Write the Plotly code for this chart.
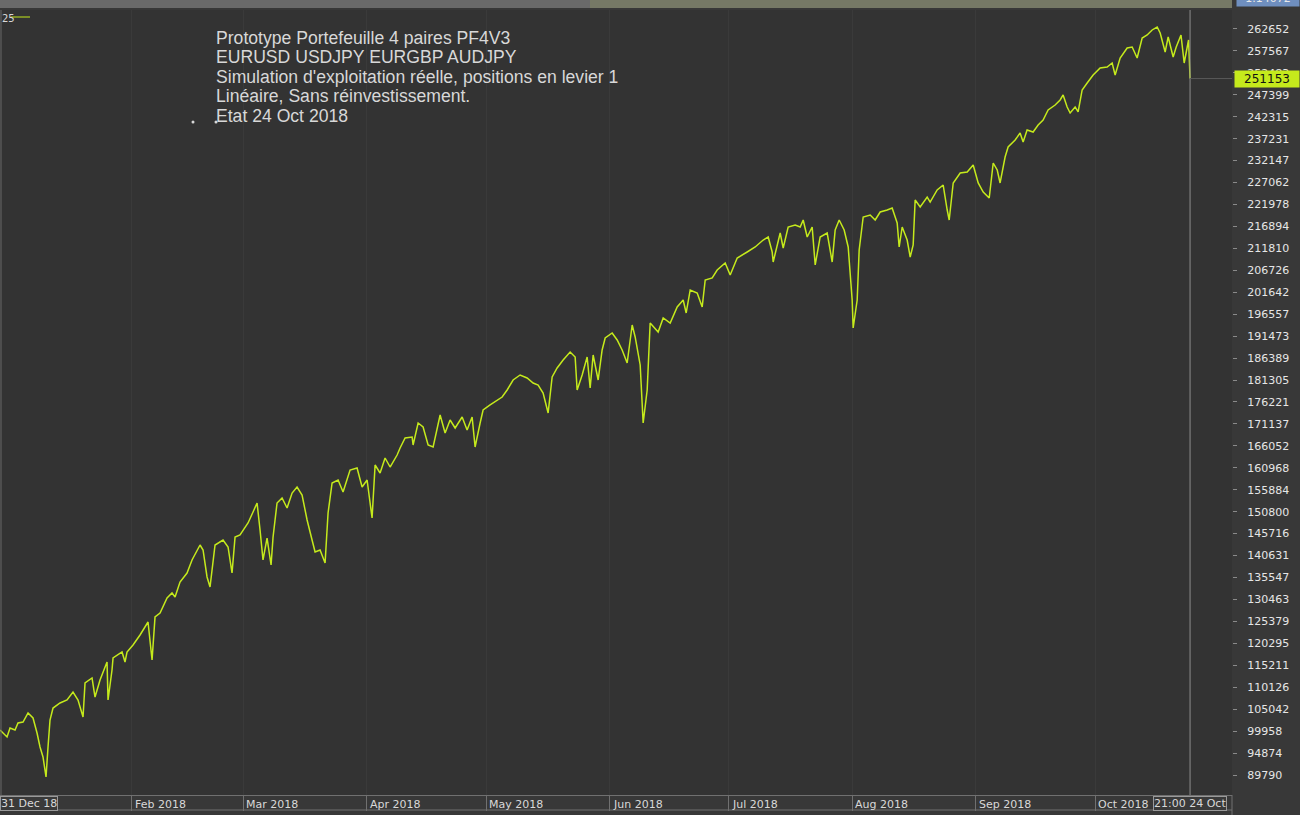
import pandas as pd
import plotly.graph_objects as go

# equity curve (days after 1 Jan 2018, account value)
start = pd.Timestamp("2018-01-01")
day = [-2.16, -0.40, 0.35, 1.61, 2.36, 3.62, 4.88, 6.13, 7.14, 7.89, 8.64, 9.40, 9.90, 10.40,
       11.16, 12.92, 14.68, 16.18, 17.44, 18.70, 19.20, 20.96, 21.71, 22.97, 24.73, 24.98, 25.98,
       26.24, 28.50, 29.25, 29.75, 31.26, 33.02, 35.03, 36.04, 36.79, 38.05, 39.81, 41.06, 41.82,
       43.07, 44.83, 46.09, 47.35, 48.10, 48.86, 49.86, 50.61, 51.87, 53.88, 55.14, 56.14, 56.90,
       58.15, 59.41, 60.16, 61.42, 62.43, 63.18, 63.93, 64.94, 65.95, 66.45, 67.45, 68.71, 69.97,
       71.23, 72.48, 73.74, 75.00, 76.25, 77.01, 78.26, 79.52, 80.27, 81.28, 82.79, 84.04, 85.80,
       87.56, 88.82, 90.08, 91.33, 92.09, 93.34, 94.60, 95.86, 97.62, 98.37, 99.63, 101.39, 101.64,
       102.90, 104.15, 105.41, 106.67, 108.43, 109.68, 110.94, 112.20, 113.96, 115.21, 116.47,
       117.22, 118.48, 119.23, 120.99, 122.75, 124.01, 125.27, 126.77, 128.53, 130.29, 131.80,
       133.06, 134.31, 135.57, 136.58, 137.83, 139.34, 141.10, 142.36, 142.86, 144.12, 145.37,
       146.13, 146.88, 148.14, 149.14, 149.90, 151.66, 152.92, 154.17, 155.43, 156.69, 157.44,
       158.70, 159.45, 160.46, 161.21, 163.22, 164.48, 166.24, 168.00, 169.51, 170.26, 171.27,
       173.03, 174.28, 175.04, 176.80, 178.05, 180.06, 181.32, 183.08, 185.59, 187.60, 189.61,
       190.87, 191.87, 192.12, 193.88, 194.64, 195.89, 197.65, 198.91, 199.66, 200.67, 201.92,
       202.68, 203.93, 205.69, 206.95, 207.70, 208.71, 209.96, 210.97, 211.97, 212.22, 213.23,
       213.73, 214.74, 216.50, 217.75, 219.01, 220.77, 222.02, 223.28, 223.78, 224.54, 225.79,
       226.55, 227.30, 227.80, 229.06, 230.82, 231.57, 233.33, 234.84, 235.85, 236.35, 237.36,
       239.12, 240.88, 242.38, 243.64, 244.90, 246.41, 247.41, 248.42, 249.14, 250.40, 251.16,
       252.92, 254.17, 254.93, 255.93, 257.44, 258.70, 259.95, 261.21, 262.97, 264.23, 264.98,
       265.99, 266.74, 268.00, 268.75, 269.76, 271.02, 272.52, 274.28, 276.04, 277.30, 278.05,
       279.31, 281.07, 282.33, 283.58, 284.84, 286.10, 287.35, 288.61, 289.37, 290.62, 291.38,
       292.63, 293.40, 294.60, 295.40, 296.10, 296.50, 296.875]
equity = [100220, 98600, 100680, 100220, 101840, 102070, 104160, 103000, 99520, 96280, 93960,
          89330, 96280, 102530, 105310, 106470, 107170, 109020, 107170, 103230, 111110, 112270,
          107860, 111800, 115970, 107170, 114120, 116900, 118290, 115970, 118290, 119910, 122230,
          125240, 116440, 126400, 127330, 130800, 131960, 131030, 134510, 136590, 139610, 141920,
          143080, 141920, 135670, 133350, 143080, 144240, 142620, 136590, 144940, 145400, 147020,
          148180, 150730, 152810, 146560, 139610, 144700, 138450, 144940, 152810, 153970, 151650,
          155130, 156520, 154670, 148870, 144240, 141460, 141920, 138910, 150500, 157450, 158140,
          155360, 160460, 160920, 156520, 158140, 149340, 161620, 159760, 163240, 161150, 163930,
          165560, 167870, 168110, 166250, 171350, 170420, 166250, 165790, 173200, 169030, 172040,
          170190, 172740, 169730, 172740, 165790, 171350, 174360, 175520, 176680, 177370, 179000,
          181310, 182470, 181780, 180620, 180150, 178300, 173670, 182010, 184090, 185950, 187800,
          186640, 179000, 182470, 186640, 179460, 187100, 181310, 188260, 191040, 192200, 190580,
          188260, 185250, 194060, 191280, 184790, 171350, 179000, 194520, 192430, 195680, 194520,
          198230, 199850, 196840, 202170, 201470, 198230, 204480, 204950, 206800, 208420, 205640,
          209580, 210970, 212130, 213750, 214450, 210970, 208650, 215370, 211900, 216760, 217230,
          216760, 218380, 214450, 216760, 207960, 214450, 215370, 208650, 216070, 218380, 216070,
          212130, 199850, 193360, 199850, 211430, 219080, 219540, 218380, 220240, 220700, 221160,
          217690, 212130, 216760, 213750, 209810, 212590, 223020, 221400, 223710, 222550, 225340,
          226490, 220700, 218380, 226960, 229270, 229510, 231130, 226960, 224870, 223480, 231590,
          229970, 226960, 232980, 235300, 236920, 238540, 236460, 239240, 238770, 240400, 241550,
          243870, 245030, 246190, 247350, 244570, 243180, 244570, 243410, 248510, 250130, 251980,
          253600, 253830, 254760, 251980, 255920, 258240, 258470, 255920, 260550, 261250, 262410,
          263100, 261710, 257310, 260790, 256150, 258470, 261250, 254760, 258470, 260090, 251153]

y_ticks = [89790, 94874, 99958, 105042, 110126, 115211, 120295, 125379, 130463, 135547,
           140631, 145716, 150800, 155884, 160968, 166052, 171137, 176221, 181305, 186389,
           191473, 196557, 201642, 206726, 211810, 216894, 221978, 227062, 232147, 237231,
           242315, 247399, 252483, 257567, 262652]
month_starts = ["2018-02-01", "2018-03-01", "2018-04-01", "2018-05-01", "2018-06-01",
                "2018-07-01", "2018-08-01", "2018-09-01", "2018-10-01"]
month_labels = ["Feb 2018", "Mar 2018", "Apr 2018", "May 2018", "Jun 2018",
                "Jul 2018", "Aug 2018", "Sep 2018", "Oct 2018"]
last_time = "2018-10-24 21:00"
last_label = "21:00 24 Oct"
first_label = "31 Dec 18"

info_lines = ["Prototype Portefeuille 4 paires PF4V3",
              "EURUSD USDJPY EURGBP AUDJPY",
              "Simulation d'exploitation réelle, positions en levier 1",
              "Linéaire, Sans réinvestissement.",
              "Etat 24 Oct 2018"]

dates = start + pd.to_timedelta(day, unit="D")
LINE = "#c5ea1c"
TXT = "#d8d8d8"
AX = "#707070"
AXFONT = "DejaVu Sans"

fig = go.Figure()
fig.add_trace(go.Scatter(x=dates, y=equity, mode="lines",
                         line=dict(color=LINE, width=1.5), showlegend=False))

fig.update_layout(
    width=1300, height=815,
    margin=dict(l=0, r=68, t=10, b=20),
    paper_bgcolor="#383838",
    plot_bgcolor="#333333",
    font=dict(family="Liberation Sans", color=TXT),
    xaxis=dict(range=["2017-12-29 20:00", "2018-11-04 10:00"], automargin=False,
               tickvals=month_starts, showticklabels=False,
               ticks="outside", ticklen=15, tickcolor=AX,
               showgrid=True, gridcolor="#3a3a3a", gridwidth=1,
               showline=True, linecolor=AX, zeroline=False),
    yaxis=dict(range=[85156, 267040], side="right", automargin=False,
               tickvals=y_ticks, ticktext=[str(v) for v in y_ticks],
               ticks="outside", ticklen=4, tickcolor="#8a8a8a", ticklabelstandoff=8,
               tickfont=dict(size=11, color="#e6e6e6", family=AXFONT),
               showgrid=False, zeroline=False, showline=False),
)

ann = []
# info text block, one annotation per line to keep the tight line spacing
for i, line in enumerate(info_lines):
    ann.append(dict(xref="paper", yref="paper", x=214 / 1232,
                    y=(795 - (38 + 19.5 * i)) / 785,
                    xanchor="left", yanchor="middle", align="left", showarrow=False,
                    text=line, font=dict(size=17.6, color=TXT, family="Liberation Sans")))
# month labels along the bottom band
for d, lab in zip(month_starts, month_labels):
    ann.append(dict(x=d, xref="x", yref="paper", y=0, yanchor="top", yshift=-1,
                    xanchor="left", xshift=1, showarrow=False, text=lab,
                    font=dict(size=11, color=TXT, family=AXFONT)))
ann.append(dict(xref="paper", x=0, yref="paper", y=0, yanchor="top", yshift=-1,
                xanchor="left", showarrow=False, text=first_label,
                bordercolor="#9a9a9a", borderwidth=1, borderpad=0, bgcolor="#3a3a3a",
                font=dict(size=11, color=TXT, family=AXFONT)))
ann.append(dict(x=last_time, xref="x", yref="paper", y=0, yanchor="top", yshift=-1,
                xanchor="center", showarrow=False, text=last_label,
                bordercolor="#9a9a9a", borderwidth=1, borderpad=0, bgcolor="#3a3a3a",
                font=dict(size=11, color=TXT, family=AXFONT)))
ann.append(dict(xref="paper", x=0.5, yref="paper", y=-0.02, yanchor="top", yshift=-1,
                showarrow=False, text="2018", font=dict(size=11, color=TXT, family=AXFONT)))
# last value tag on the price axis
ann.append(dict(xref="paper", x=1, y=equity[-1], yref="y", xanchor="left", xshift=2,
                showarrow=False, text=str(equity[-1]), bgcolor=LINE, borderpad=1,
                width=62, align="center",
                font=dict(size=12, color="#111111", family=AXFONT)))
# cut-off legend fragment and top ticker tag
ann.append(dict(xref="paper", x=0, yref="paper", y=(795 - 18) / 785, xanchor="left",
                yanchor="middle", showarrow=False, text="25",
                font=dict(size=10, color=TXT, family=AXFONT)))
ann.append(dict(xref="paper", x=1, yref="paper", y=(795 + 2) / 785, xanchor="left",
                yanchor="middle", xshift=4, showarrow=False, text="1.14072",
                bgcolor="#6f8fbf", width=60, font=dict(size=11, color="#e8e8e8", family=AXFONT)))
fig.update_layout(annotations=ann)

shapes = [
    # top strip
    dict(type="rect", xref="paper", yref="paper", x0=0, x1=1, y0=(795 - 8) / 785,
         y1=(795 + 10) / 785, fillcolor="#6a6a6a", line_width=0, layer="above"),
    dict(type="rect", xref="paper", yref="paper", x0=590 / 1232, x1=1, y0=(795 - 8) / 785,
         y1=(795 + 10) / 785, fillcolor="#767966", line_width=0, layer="above"),
    # left border
    dict(type="line", xref="paper", yref="paper", x0=0.0008, x1=0.0008, y0=0, y1=1,
         line=dict(color="#6a6a6a", width=1)),
    # bottom of the time band
    dict(type="line", xref="paper", yref="paper", x0=0, x1=1, y0=-15 / 785, y1=-15 / 785,
         line=dict(color=AX, width=1)),
    dict(type="line", xref="paper", yref="paper", x0=1, x1=1, y0=-20 / 785, y1=0,
         line=dict(color=AX, width=1)),
    # cursor lines at the last bar
    dict(type="line", xref="x", yref="paper", x0=last_time, x1=last_time, y0=0, y1=1,
         line=dict(color="#8c8c8c", width=1)),
    dict(type="line", xref="x", yref="y", x0=last_time, x1="2018-11-04 10:00",
         y0=equity[-1], y1=equity[-1], line=dict(color="#5a5a5a", width=1)),
    # legend swatch
    dict(type="line", xref="paper", yref="paper", x0=11 / 1232, x1=30 / 1232,
         y0=(795 - 17) / 785, y1=(795 - 17) / 785, line=dict(color=LINE, width=1)),
]
for cx in (193, 216):
    shapes.append(dict(type="circle", xref="paper", yref="paper", xsizemode="pixel",
                       ysizemode="pixel", xanchor=cx / 1232, yanchor=(795 - 122) / 785,
                       x0=-1.5, x1=1.5, y0=-1.5, y1=1.5, fillcolor=TXT, line_width=0))
fig.update_layout(shapes=shapes)

fig.write_html("out.html", config={"displayModeBar": False},
               post_script="document.body.style.margin='0';document.body.style.overflow='hidden';")
